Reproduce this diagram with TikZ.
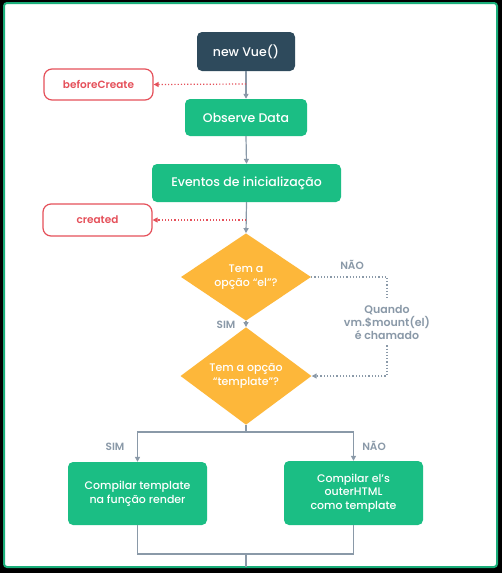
\documentclass[tikz,border=0pt]{standalone}
\usepackage{fontspec}
\setmainfont{Poppins}[UprightFont=* Medium, BoldFont=* SemiBold]
\usetikzlibrary{shapes.geometric,arrows.meta}
\definecolor{vgreen}{HTML}{1BBE84}
\definecolor{vdark}{HTML}{2E4A5C}
\definecolor{vorange}{HTML}{FDB73A}
\definecolor{vred}{HTML}{E5505A}
\definecolor{vgray}{HTML}{8A99A8}
\definecolor{vframe}{HTML}{1AAE7A}
\tikzset{
  box/.style={rectangle, rounded corners=5pt, fill=vgreen, text=white, inner sep=0pt, font=\fontsize{12.5}{14}\selectfont},
  smallbox/.style={box, font=\fontsize{11}{13.5}\selectfont, align=center},
  hook/.style={rectangle, rounded corners=8pt, draw=vred, line width=1.2pt, fill=white, text=vred, inner sep=0pt, font=\bfseries\fontsize{10.5}{12}\selectfont},
  decision/.style={diamond, fill=vorange, text=white, inner sep=0pt, align=center, font=\fontsize{11}{13.5}\selectfont},
  conn/.style={draw=vgray, line width=1.2pt},
  arr/.style={conn, -{Triangle[length=5pt,width=5pt]}},
  dotarr/.style={draw=vgray, line width=1.2pt, dotted, -{Triangle[length=5pt,width=5pt]}},
  hookarr/.style={draw=vred, line width=1.2pt, dotted, -{Triangle[length=5pt,width=5pt]}},
  lbl/.style={text=vgray, font=\bfseries\fontsize{10.5}{12}\selectfont, align=center, inner sep=0pt}
}
\begin{document}
\begin{tikzpicture}[x=1pt,y=-1pt]
\useasboundingbox (0,0) rectangle (502,573);
\fill[black] (0,0) rectangle (502,573);
\draw[vframe, line width=2pt, fill=white, rounded corners=3pt] (4,3) rectangle (497,567);

\node[box, fill=vdark, minimum width=98pt, minimum height=39pt] (vue) at (246,51.5) {new Vue()};
\node[box, minimum width=122pt, minimum height=37pt] (obs) at (246,117.5) {Observe Data};
\node[box, minimum width=189pt, minimum height=38pt] (ev) at (246.5,183) {Eventos de inicialização};
\node[hook, minimum width=109pt, minimum height=31pt] (bc) at (98.5,84.5) {beforeCreate};
\node[hook, minimum width=109pt, minimum height=32pt] (cr) at (97.5,220) {created};
\node[decision, minimum width=130pt, minimum height=74pt] (d1) at (246,277) {Tem a\\opção “el”?};
\node[decision, minimum width=131pt, minimum height=72pt] (d2) at (246,376) {Tem a opção\\“template”?};
\node[smallbox, minimum width=139pt, minimum height=63pt] (c1) at (137.5,493.5) {Compilar template\\na função render};
\node[smallbox, minimum width=139pt, minimum height=64pt] (c2) at (353.5,493) {Compilar el’s\\outerHTML\\como template};

\node[lbl, inner sep=6pt, font=\bfseries\fontsize{11}{13}\selectfont] (q) at (387,322) {Quando\\vm.\$mount(el)\\é chamado};
\node[lbl] (nao1) at (352,265) {NÃO};
\node[lbl] (sim1) at (226,325) {SIM};
\node[lbl] (sim2) at (115,447) {SIM};
\node[lbl] (nao2) at (374,446) {NÃO};

\coordinate (bcpt) at (246,84);
\coordinate (crpt) at (246,220);
\coordinate (split) at (246,432);
\coordinate (join) at (246,554);
\coordinate (bottom) at (246,567);

\draw[arr] (vue.south) -- (obs.north);
\draw[arr] (obs.south) -- (ev.north);
\draw[arr] (ev.south) -- (d1.north);
\draw[arr] (d1.south) -- (d2.north);
\draw[hookarr] (bcpt) -- (bc.east);
\draw[hookarr] (crpt) -- (cr.east);
\draw[draw=vgray, line width=1.2pt, dotted] (d1.east) -| (q.north);
\draw[dotarr] (q.south) |- (d2.east);
\draw[conn] (d2.south) -- (split);
\draw[arr] (split) -| (c1.north);
\draw[arr] (split) -| (c2.north);
\draw[conn] (c1.south) |- (join);
\draw[conn] (c2.south) |- (join);
\draw[conn] (join) -- (bottom);
\end{tikzpicture}
\end{document}
